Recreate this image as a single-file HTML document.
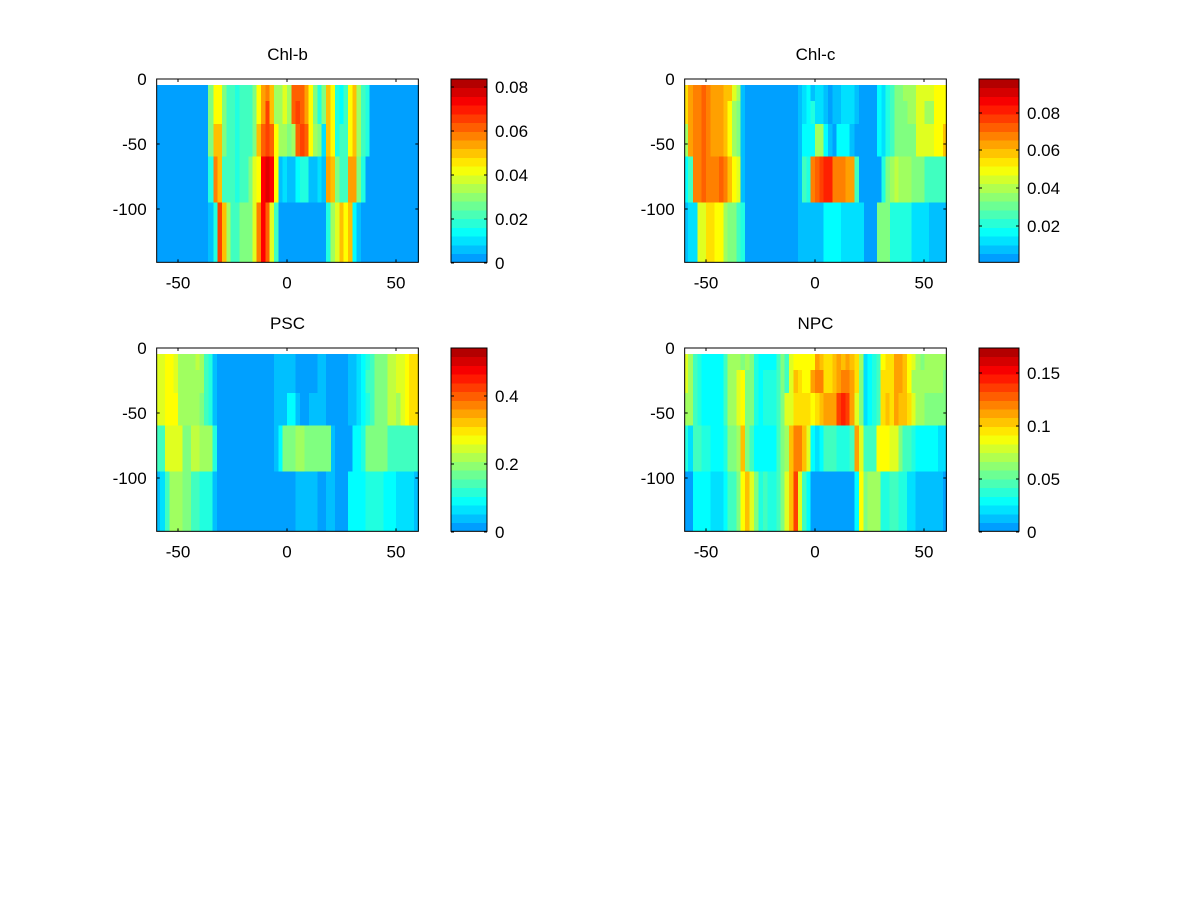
<!DOCTYPE html>
<html><head><meta charset="utf-8"><style>
body{margin:0;background:#fff}
svg text{font-family:"Liberation Sans",sans-serif;font-size:17px;fill:#000}
</style></head><body>
<svg id="s" width="1200" height="900" xmlns="http://www.w3.org/2000/svg"></svg>
<script>
const C={B:'#00a0ff',LB:'#00c0ff',C:'#00e0ff',CY:'#00ffff',AQ:'#20ffe0',G1:'#40ffc0',G2:'#80ff80',YG:'#a0ff60',Y1:'#c0ff40',Y2:'#e0ff20',Y:'#ffff00',Y3:'#ffe000',O1:'#ffc000',O2:'#ffa000',O3:'#ff8000',O4:'#ff6000',R1:'#ff4000',R2:'#ff2000',R:'#ff0000',DR:'#e00000'};
const P1=[[20,'B,B,B,B,B'],[174,'G2,G2,G2,AQ,LB'],[190,'Y,Y,O1,O3,AQ'],[203,'Y,Y,O1,O1,R1'],[216,'G2,G2,G2,G1,O1'],[229,'G1,G1,G1,G1,YG'],[242,'G1,G1,G1,G1,G1'],[255,'AQ,AQ,AQ,AQ,G1'],[268,'G1,G1,G1,G1,G2'],[295,'G1,G1,G1,G2,G2'],[307,'G2,G2,G2,Y2,Y2'],[319,'Y,Y,O1,Y,O3'],[333,'O2,O2,O4,R,R'],[346,'O3,R1,R1,DR,O4'],[359,'O1,O1,O4,R,Y2'],[372,'YG,YG,Y,Y,G1'],[385,'YG,YG,YG,LB,B'],[398,'Y2,Y2,YG,C,B'],[411,'YG,YG,G2,LB,B'],[424,'O4,O4,YG,LB,B'],[437,'O4,R1,O4,CY,B'],[450,'O4,O4,R1,AQ,B'],[463,'O2,O2,O4,AQ,B'],[476,'Y,Y,Y,LB,B'],[489,'G2,G2,YG,LB,B'],[502,'AQ,AQ,G2,C,B'],[515,'G2,G2,C,LB,B'],[528,'O1,O1,O1,O2,AQ'],[542,'Y,Y,Y,O1,YG'],[555,'AQ,AQ,AQ,G2,Y2'],[568,'CY,CY,G1,G1,O1'],[581,'G1,G1,G1,G1,Y'],[594,'Y,Y,Y,O2,O1'],[607,'O1,O1,O1,O2,CY'],[620,'YG,YG,YG,G2,LB'],[633,'G1,G1,G1,AQ,B'],[646,'AQ,AQ,AQ,B,B'],[659,'B,B,B,B,B']];
const P2=[[20,'Y3,Y3,YG,CY,LB'],[30,'O2,O2,O2,G1,C'],[45,'O3,O3,O3,O3,C'],[58,'O3,O3,O3,O3,Y2'],[71,'O4,O4,O4,O4,Y2'],[84,'O3,O3,O3,O3,Y3'],[97,'O2,O2,O2,O3,Y3'],[110,'O2,O2,O2,O3,Y'],[123,'O2,O2,O2,O4,Y'],[136,'O1,O1,O1,O3,YG'],[149,'O1,Y,Y,O1,G2'],[162,'Y2,YG,YG,Y,G2'],[175,'YG,G2,G2,Y2,G1'],[188,'LB,LB,LB,LB,AQ'],[201,'B,B,B,B,B'],[360,'LB,LB,LB,LB,LB'],[372,'C,C,CY,G1,LB'],[385,'CY,CY,CY,AQ,LB'],[398,'LB,AQ,CY,O3,LB'],[411,'C,C,YG,O4,LB'],[424,'C,C,YG,R1,LB'],[437,'LB,LB,CY,R2,CY'],[450,'B,B,LB,R2,CY'],[463,'LB,LB,B,O3,CY'],[476,'LB,LB,CY,O3,CY'],[489,'C,C,CY,O3,C'],[502,'C,C,CY,O2,C'],[515,'C,C,LB,O2,C'],[530,'LB,LB,B,G1,C'],[543,'B,B,B,B,C'],[558,'B,B,B,B,B'],[597,'CY,CY,CY,B,G2'],[610,'C,C,C,AQ,G2'],[623,'AQ,AQ,AQ,G2,G2'],[636,'G1,G1,G1,YG,AQ'],[649,'G2,G2,G2,Y1,AQ'],[662,'G2,G2,G2,YG,AQ'],[675,'YG,G2,G2,YG,AQ'],[688,'YG,YG,G2,YG,AQ'],[701,'YG,YG,G2,G2,C'],[714,'Y2,Y2,Y2,G2,C'],[740,'Y2,YG,Y2,G1,C'],[753,'Y2,YG,Y2,G1,LB'],[768,'Y,Y,Y,G1,LB'],[795,'Y,Y,O1,G1,LB']];
const P3=[[20,'Y2,Y2,Y2,G1,LB'],[30,'Y2,Y2,Y2,G1,C'],[45,'Y,Y,Y,Y2,G1'],[58,'Y,Y,Y,Y2,YG'],[71,'Y2,Y2,Y,Y2,YG'],[84,'YG,YG,YG,Y2,YG'],[97,'YG,YG,YG,G2,G2'],[123,'YG,YG,YG,Y1,G1'],[136,'Y1,YG,YG,Y1,G1'],[149,'YG,YG,G2,YG,AQ'],[162,'G1,G1,G1,YG,AQ'],[175,'AQ,AQ,AQ,YG,AQ'],[188,'LB,LB,LB,AQ,LB'],[201,'B,B,B,B,B'],[372,'LB,LB,LB,LB,B'],[385,'LB,LB,LB,CY,B'],[398,'LB,LB,LB,G2,B'],[411,'LB,LB,CY,G2,B'],[424,'LB,LB,CY,G2,B'],[437,'B,B,LB,YG,LB'],[450,'B,B,B,YG,LB'],[463,'B,B,B,G2,LB'],[477,'B,B,LB,G2,LB'],[503,'LB,LB,LB,G2,B'],[515,'LB,LB,LB,G2,B'],[528,'B,B,B,G2,LB'],[543,'B,B,B,LB,LB'],[555,'B,B,B,B,B'],[594,'LB,LB,LB,B,CY'],[608,'LB,LB,LB,CY,CY'],[620,'C,C,C,CY,CY'],[633,'CY,CY,CY,AQ,CY'],[647,'AQ,G1,AQ,G2,AQ'],[660,'G1,G1,G1,G2,AQ'],[673,'G2,G2,G2,G2,AQ'],[700,'G2,G2,G2,G2,CY'],[712,'Y1,Y1,Y1,G1,CY'],[738,'Y2,Y2,YG,G1,C'],[751,'Y2,Y2,Y2,G1,C'],[765,'Y,Y,Y,G1,C'],[777,'Y3,Y3,Y3,G1,C'],[792,'Y3,Y3,Y3,G1,LB']];
const P4=[[20,'Y2,Y2,YG,AQ,B'],[30,'YG,YG,YG,C,B'],[45,'G1,G1,G1,G1,CY'],[58,'AQ,AQ,AQ,G1,CY'],[71,'CY,CY,CY,AQ,CY'],[97,'CY,CY,CY,CY,C'],[136,'G1,G1,G1,AQ,CY'],[149,'YG,YG,YG,G2,G1'],[175,'YG,Y2,Y2,YG,G2'],[188,'G2,Y,Y,O1,Y'],[201,'YG,G2,G2,G2,O1'],[214,'G2,G2,G2,G1,Y2'],[228,'AQ,AQ,AQ,CY,G2'],[241,'CY,CY,CY,CY,AQ'],[255,'CY,AQ,AQ,CY,G1'],[268,'CY,AQ,AQ,CY,AQ'],[295,'G1,G1,G1,G1,G1'],[308,'G2,G2,G2,G2,G2'],[320,'G1,G1,Y2,YG,Y2'],[333,'Y2,Y2,Y2,O1,O1'],[347,'Y,O1,Y3,O3,R1'],[360,'Y,Y3,Y3,O3,Y2'],[372,'Y,Y,Y3,O1,G1'],[385,'Y,Y,Y3,Y2,CY'],[398,'Y,O2,Y,CY,B'],[411,'O2,O3,Y3,C,B'],[424,'O1,O3,O1,CY,B'],[437,'Y3,Y3,O2,G1,B'],[463,'O1,O1,O2,G1,B'],[476,'O2,O2,R1,AQ,B'],[489,'O1,O3,R2,AQ,B'],[502,'O2,O3,R1,AQ,B'],[515,'O1,O2,O2,G1,B'],[530,'Y3,Y3,Y2,O2,CY'],[543,'YG,G2,G2,Y2,Y'],[556,'C,C,C,G1,G2'],[569,'CY,CY,CY,G1,YG'],[582,'AQ,AQ,AQ,G1,YG'],[595,'G1,G1,G1,Y,YG'],[608,'Y,Y3,Y3,Y,AQ'],[622,'Y3,Y3,O1,Y,AQ'],[635,'Y3,Y3,Y3,Y2,G1'],[648,'O2,O2,O2,Y2,G1'],[661,'O2,O2,O1,G2,AQ'],[674,'O1,O1,O1,G1,AQ'],[687,'Y,Y,Y3,G1,C'],[700,'Y2,YG,Y2,AQ,C'],[713,'YG,YG,YG,CY,LB'],[727,'G2,YG,YG,CY,LB'],[740,'YG,YG,G2,CY,LB'],[780,'YG,YG,G2,C,LB'],[795,'YG,G2,G2,C,B']];
const bands=[30,78,147,245,383,562];
let h='';
function jet(t){const f=x=>Math.max(0,Math.min(1,x));const r=f(1.5-Math.abs(4*t-3)),g=f(1.5-Math.abs(4*t-2)),b=f(1.5-Math.abs(4*t-1));return `rgb(${Math.round(r*255)},${Math.round(g*255)},${Math.round(b*255)})`;}
function panel(P,ox,oy,title,cbx,cbw,ticks){
  for(let i=0;i<P.length;i++){const x0=P[i][0],x1=i+1<P.length?P[i+1][0]:806;const cs=P[i][1].split(',');
    for(let j=0;j<5;j++){h+=`<rect x="${(ox+x0/3).toFixed(2)}" y="${(oy+bands[j]/3).toFixed(2)}" width="${((x1-x0)/3+0.4).toFixed(2)}" height="${((bands[j+1]-bands[j])/3+0.4).toFixed(2)}" fill="${C[cs[j]]}" shape-rendering="crispEdges"/>`;}}
  const L=ox+20/3,T=oy+12/3,R=ox+805/3,Bm=oy+562/3;
  h+=`<rect x="${L}" y="${T}" width="${R-L}" height="${Bm-T}" fill="none" stroke="#000" stroke-width="1"/>`;
  [[-50,178],[0,287],[50,396]].forEach(([v,x])=>{x=x-150+ox;h+=`<line x1="${x}" y1="${T}" x2="${x}" y2="${T+3}" stroke="#000"/><line x1="${x}" y1="${Bm}" x2="${x}" y2="${Bm-3}" stroke="#000"/><text x="${x}" y="${Bm+26}" text-anchor="middle">${v}</text>`;});
  [[0,0],[-50,65],[-100,130]].forEach(([v,d])=>{const y=T+d;h+=`<line x1="${L}" y1="${y}" x2="${L+3}" y2="${y}" stroke="#000"/><line x1="${R}" y1="${y}" x2="${R-3}" y2="${y}" stroke="#000"/><text x="${L-10}" y="${y+6}" text-anchor="end">${v}</text>`;});
  h+=`<text x="${(L+R)/2}" y="${T-19}" text-anchor="middle">${title}</text>`;
  const n=21,ch=Bm-T;for(let k=0;k<n;k++){const t=0.28+(0.95-0.28)*k/(n-1);h+=`<rect x="${cbx}" y="${(Bm-(k+1)*ch/n).toFixed(2)}" width="${cbw}" height="${(ch/n+0.4).toFixed(2)}" fill="${jet(t)}" shape-rendering="crispEdges"/>`;}
  h+=`<rect x="${cbx}" y="${T}" width="${cbw}" height="${ch}" fill="none" stroke="#000"/>`;
  ticks.forEach(([lab,y])=>{h+=`<line x1="${cbx}" y1="${y}" x2="${cbx+3}" y2="${y}" stroke="#000"/><line x1="${cbx+cbw}" y1="${y}" x2="${cbx+cbw-3}" y2="${y}" stroke="#000"/><text x="${cbx+cbw+8}" y="${y+6}">${lab}</text>`;});
}
panel(P1,150,75,'Chl-b',451,36,[['0',263],['0.02',219],['0.04',175],['0.06',131],['0.08',87]]);
panel(P2,678,75,'Chl-c',979,40,[['0.02',226],['0.04',188],['0.06',150],['0.08',113]]);
panel(P3,150,344,'PSC',451,36,[['0',532],['0.2',464],['0.4',396]]);
panel(P4,678,344,'NPC',979,40,[['0',532],['0.05',479],['0.1',426],['0.15',373]]);
document.getElementById('s').innerHTML=h;
</script>
</body></html>
